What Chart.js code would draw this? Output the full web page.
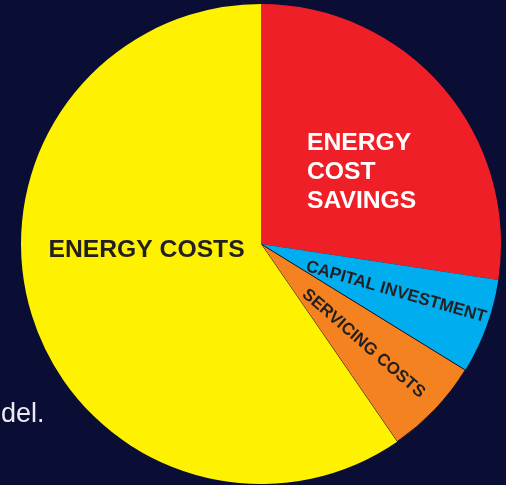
<!DOCTYPE html>
<html>
<head>
<meta charset="utf-8">
<style>
  html, body { margin: 0; padding: 0; background: #0b0e34; }
  #wrap { position: relative; width: 506px; height: 485px; }
  canvas { display: block; }
</style>
<script src="https://cdn.jsdelivr.net/npm/chart.js@4.4.1/dist/chart.umd.min.js"></script>
</head>
<body>
<div id="wrap"><canvas id="c" width="506" height="485"></canvas></div>
<script>
// ---- data ----
const categories = ["ENERGY COST SAVINGS", "CAPITAL INVESTMENT", "SERVICING COSTS", "ENERGY COSTS"];
const shares = [27.4, 6.4, 6.6, 59.6];
const sliceColors = ["#ee1f26", "#00aeef", "#f58220", "#fff200"];
const savingsLines = ["ENERGY", "COST", "SAVINGS"];
const captionFragment = "del.";

const FONT = "'Liberation Sans', Arial, Helvetica, sans-serif";
const DARK = "#231f20";

const labelPlugin = {
  id: 'sliceLabels',
  afterDatasetsDraw(chart) {
    const arc = chart.getDatasetMeta(0).data[0];
    const cx = arc.x, cy = arc.y;
    const ctx = chart.ctx;
    ctx.save();
    // Energy cost savings (white, stacked)
    ctx.fillStyle = "#ffffff";
    ctx.font = "bold 24.7px " + FONT;
    ctx.textAlign = "left";
    ctx.textBaseline = "alphabetic";
    savingsLines.forEach((t, i) => ctx.fillText(t, cx + 46, cy - 94.5 + i * 29));
    // Energy costs
    ctx.fillStyle = DARK;
    ctx.font = "bold 24.7px " + FONT;
    ctx.fillText(categories[3], cx - 212.5, cy + 13.3);
    // Capital investment (rotated)
    ctx.font = "bold 17px " + FONT;
    ctx.textAlign = "center";
    ctx.textBaseline = "middle";
    ctx.save();
    ctx.translate(cx + 135, cy + 48);
    ctx.rotate(16 * Math.PI / 180);
    ctx.fillText(categories[1], 0, 0);
    ctx.restore();
    // Servicing costs (rotated)
    ctx.save();
    ctx.translate(cx + 102.5, cy + 99.5);
    ctx.rotate(41 * Math.PI / 180);
    ctx.fillText(categories[2], 0, 0);
    ctx.restore();
    // caption fragment
    ctx.fillStyle = "#ececf0";
    ctx.font = "27px " + FONT;
    ctx.textAlign = "left";
    ctx.textBaseline = "alphabetic";
    ctx.fillText(captionFragment, 1, 421.5);
    ctx.restore();
  }
};

new Chart(document.getElementById('c'), {
  type: 'pie',
  data: {
    labels: categories,
    datasets: [{
      data: shares,
      backgroundColor: sliceColors,
      borderColor: ["#ee1f26", "#00aeef", "#14142a", "#fff200"],
      borderWidth: [0, 0, 1, 0]
    }]
  },
  options: {
    responsive: false,
    animation: false,
    radius: 240,
    layout: { padding: { left: 21, right: 5, top: 4, bottom: 1 } },
    plugins: {
      legend: { display: false },
      tooltip: { enabled: false }
    }
  },
  plugins: [labelPlugin]
});
</script>
</body>
</html>
